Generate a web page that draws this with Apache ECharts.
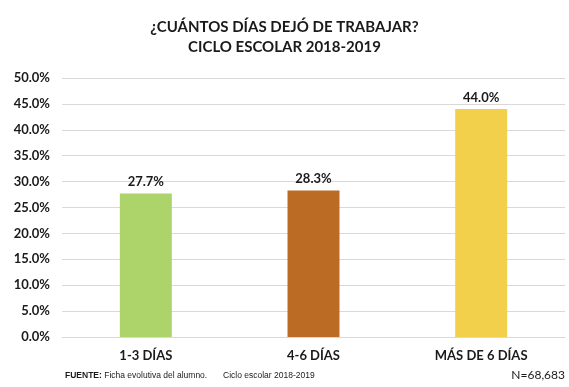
<!DOCTYPE html>
<html>
<head>
<meta charset="utf-8">
<script src="https://cdn.jsdelivr.net/npm/echarts@6/dist/echarts.min.js"></script>
<style>
  html, body { margin: 0; padding: 0; background: #fff; }
  #chart { width: 569px; height: 387px; }
</style>
</head>
<body>
<div id="chart"></div>
<script>
// Days of work missed, school year 2018-2019
const categories = ['1-3 DÍAS', '4-6 DÍAS', 'MÁS DE 6 DÍAS'];
const percentages = [27.7, 28.3, 44.0];
const barColors = ['#add46b', '#bb6b24', '#f3d04b'];
const yTicks = { min: 0, max: 50, interval: 5 };

const font = 'Lato, "Open Sans", sans-serif';
const chart = echarts.init(document.getElementById('chart'), null, { renderer: 'canvas' });

chart.setOption({
  animation: false,
  backgroundColor: '#ffffff',
  title: {
    text: '¿CUÁNTOS DÍAS DEJÓ DE TRABAJAR?\nCICLO ESCOLAR 2018-2019',
    left: 'center',
    top: 12,
    textStyle: { fontFamily: font, fontSize: 15, fontWeight: 'bold', color: '#1a1a1a', lineHeight: 20 }
  },
  grid: { left: 62, right: 4, top: 78, bottom: 50 },
  xAxis: {
    type: 'category',
    data: categories,
    axisLine: { lineStyle: { color: '#d9d9d9' } },
    axisTick: { show: false },
    axisLabel: { fontFamily: font, fontSize: 13, fontWeight: 'bold', color: '#1a1a1a', margin: 12 }
  },
  yAxis: {
    type: 'value',
    min: yTicks.min,
    max: yTicks.max,
    interval: yTicks.interval,
    axisLine: { show: false },
    axisTick: { show: false },
    splitLine: { lineStyle: { color: '#d9d9d9', width: 1 } },
    axisLabel: {
      fontFamily: font, fontSize: 13, fontWeight: 'bold', color: '#1a1a1a', margin: 12,
      formatter: v => v.toFixed(1) + '%'
    }
  },
  series: [{
    type: 'bar',
    barWidth: '31%',
    data: percentages.map((v, i) => ({ value: v, itemStyle: { color: barColors[i] } })),
    label: {
      show: true,
      position: 'top',
      distance: 5,
      fontFamily: font, fontSize: 13, fontWeight: 'bold', color: '#1a1a1a',
      formatter: p => p.value.toFixed(1) + '%'
    }
  }],
  graphic: [
    {
      type: 'text', left: 65, top: 371,
      style: {
        text: '{b|FUENTE:} Ficha evolutiva del alumno.',
        font: '8.5px "Liberation Sans", Arial, sans-serif', fill: '#1a1a1a',
        rich: { b: { fontWeight: 'bold', fontSize: 8.5, fontFamily: '"Liberation Sans", Arial, sans-serif', fill: '#1a1a1a' } }
      }
    },
    {
      type: 'text', left: 223, top: 371,
      style: { text: 'Ciclo escolar 2018-2019', font: '8.5px "Liberation Sans", Arial, sans-serif', fill: '#1a1a1a' }
    },
    {
      type: 'text', right: 4, top: 369,
      style: { text: 'N=68,683', font: '12px Lato, sans-serif', fill: '#1a1a1a' }
    }
  ]
});
</script>
</body>
</html>
